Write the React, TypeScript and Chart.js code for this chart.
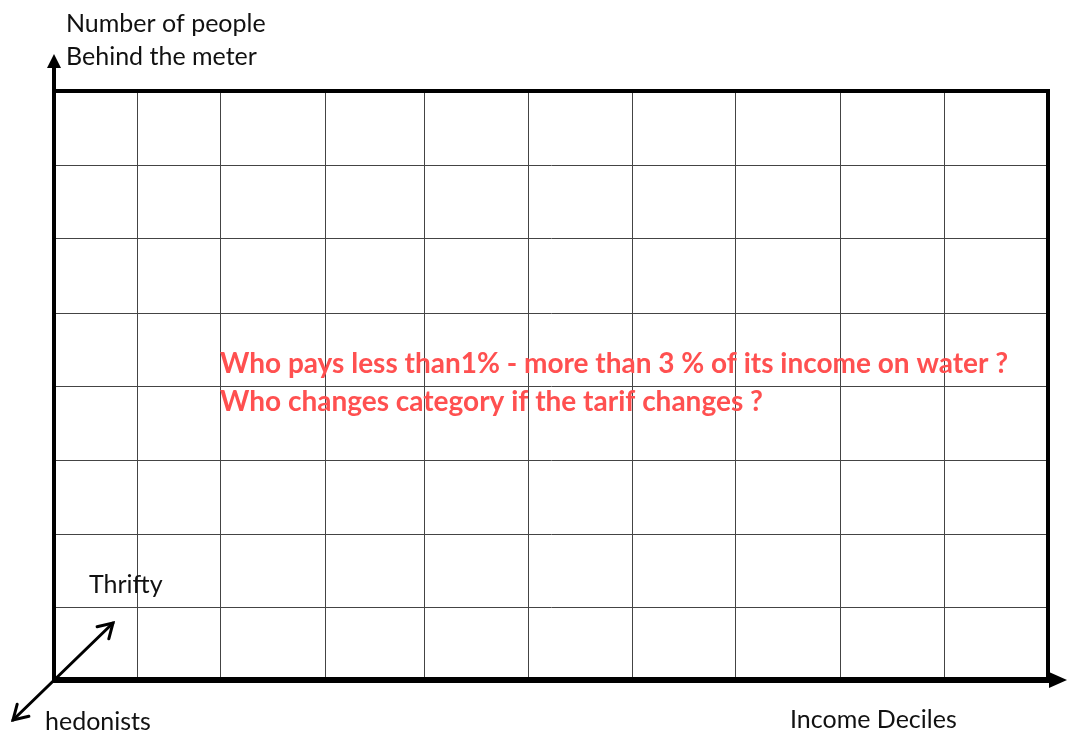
import React, { useEffect, useRef } from "react";
import { Chart, registerables } from "chart.js";

Chart.register(...registerables);

// Grid boundaries (income decile columns / people rows) in scale units
const xBoundaries = [0, 82, 165, 270, 369, 473, 577, 680, 785, 889, 993];
const yBoundaries = [0, 72, 145, 219, 293, 366, 441, 514, 588];

const yAxisTitleLines = ["Number of people", "Behind the meter"];
const xAxisTitle = "Income Deciles";
const upLabel = "Thrifty";
const downLabel = "hedonists";
const questionLines = [
  "Who pays less than1% - more than 3 % of its income on water ?",
  "Who changes category if the tarif changes ?",
];

const W = 1067;
const H = 734;

function arrowHead(ctx: CanvasRenderingContext2D, tipX: number, tipY: number, angle: number, len: number, half: number) {
  ctx.save();
  ctx.translate(tipX, tipY);
  ctx.rotate(angle);
  ctx.beginPath();
  ctx.moveTo(0, 0);
  ctx.lineTo(-len, -half);
  ctx.lineTo(-len, half);
  ctx.closePath();
  ctx.fill();
  ctx.restore();
}

function openHead(ctx: CanvasRenderingContext2D, tipX: number, tipY: number, angle: number, len: number) {
  ctx.save();
  ctx.translate(tipX, tipY);
  ctx.rotate(angle);
  ctx.beginPath();
  ctx.moveTo(-len, -len * 0.6);
  ctx.lineTo(0, 0);
  ctx.lineTo(-len, len * 0.6);
  ctx.stroke();
  ctx.restore();
}

const decorPlugin = {
  id: "decor",
  afterDraw(chart: any) {
    const ctx: CanvasRenderingContext2D = chart.ctx;
    const xs = chart.scales.x;
    const ys = chart.scales.y;
    const left = xs.getPixelForValue(xBoundaries[0]);
    const right = xs.getPixelForValue(xBoundaries[xBoundaries.length - 1]);
    const top = ys.getPixelForValue(yBoundaries[yBoundaries.length - 1]);
    const bottom = ys.getPixelForValue(yBoundaries[0]);
    ctx.save();
    ctx.strokeStyle = "#000";
    ctx.fillStyle = "#000";
    // top & right border
    ctx.lineWidth = 4;
    ctx.beginPath();
    ctx.moveTo(left - 2, top);
    ctx.lineTo(right, top);
    ctx.lineTo(right, bottom);
    ctx.stroke();
    // Y axis with arrow
    ctx.lineWidth = 4;
    ctx.beginPath();
    ctx.moveTo(left - 1, bottom + 2);
    ctx.lineTo(left - 1, 66);
    ctx.stroke();
    arrowHead(ctx, left - 1, 54, -Math.PI / 2, 14, 7);
    // X axis with arrow
    ctx.lineWidth = 6;
    ctx.beginPath();
    ctx.moveTo(left - 3, bottom + 1);
    ctx.lineTo(1052, bottom + 1);
    ctx.stroke();
    arrowHead(ctx, 1067, bottom + 1, 0, 18, 8);
    // diagonal double arrow
    ctx.lineWidth = 3;
    ctx.lineCap = "round";
    ctx.beginPath();
    ctx.moveTo(13, 720);
    ctx.lineTo(113, 623);
    ctx.stroke();
    openHead(ctx, 113, 623, Math.atan2(623 - 720, 113 - 13), 14);
    openHead(ctx, 13, 720, Math.atan2(720 - 623, 13 - 113), 14);

    // texts
    ctx.fillStyle = "#111";
    ctx.textAlign = "left";
    ctx.textBaseline = "alphabetic";
    ctx.font = "25px Lato";
    ctx.fillText(yAxisTitleLines[0], 66, 32);
    ctx.fillText(yAxisTitleLines[1], 66, 65);
    ctx.fillText(upLabel, 89, 593);
    ctx.fillText(downLabel, 45, 730);
    ctx.fillText(xAxisTitle, 790, 728);

    ctx.fillStyle = "#ff5050";
    ctx.font = "bold 28px Lato";
    const qx = xs.getPixelForValue(xBoundaries[2]);
    ctx.fillText(questionLines[0], qx, 373);
    ctx.fillText(questionLines[1], qx, 411);
    ctx.restore();
  },
};

export default function App() {
  const ref = useRef<HTMLCanvasElement | null>(null);
  useEffect(() => {
    let chart: Chart | null = null;
    let cancelled = false;
    const make = () => {
      if (cancelled || !ref.current) return;
      chart = new Chart(ref.current, {
        type: "scatter",
        data: { datasets: [{ data: [], showLine: false }] },
        options: {
          responsive: false,
          animation: false,
          layout: { padding: { left: 55, right: 19, top: 91, bottom: 55 } },
          plugins: { legend: { display: false }, tooltip: { enabled: false } },
          scales: {
            x: {
              type: "linear",
              min: xBoundaries[0],
              max: xBoundaries[xBoundaries.length - 1],
              afterBuildTicks: (s: any) => {
                s.ticks = xBoundaries.map((v) => ({ value: v }));
              },
              ticks: { display: false },
              grid: { color: "#444", lineWidth: 1, drawTicks: false },
              border: { display: false },
            },
            y: {
              type: "linear",
              min: yBoundaries[0],
              max: yBoundaries[yBoundaries.length - 1],
              afterBuildTicks: (s: any) => {
                s.ticks = yBoundaries.map((v) => ({ value: v }));
              },
              ticks: { display: false },
              grid: { color: "#444", lineWidth: 1, drawTicks: false },
              border: { display: false },
            },
          },
        },
        plugins: [decorPlugin],
      } as any);
    };
    const fonts: any = (document as any).fonts;
    if (fonts && fonts.load) {
      Promise.all([fonts.load("25px Lato"), fonts.load("bold 28px Lato")]).then(make, make);
    } else make();
    return () => {
      cancelled = true;
      if (chart) chart.destroy();
    };
  }, []);
  return (
    <div style={{ position: "fixed", left: 0, top: 0, width: W, height: H, background: "#fff" }}>
      <canvas ref={ref} width={W} height={H} style={{ width: W, height: H, display: "block" }} />
    </div>
  );
}
